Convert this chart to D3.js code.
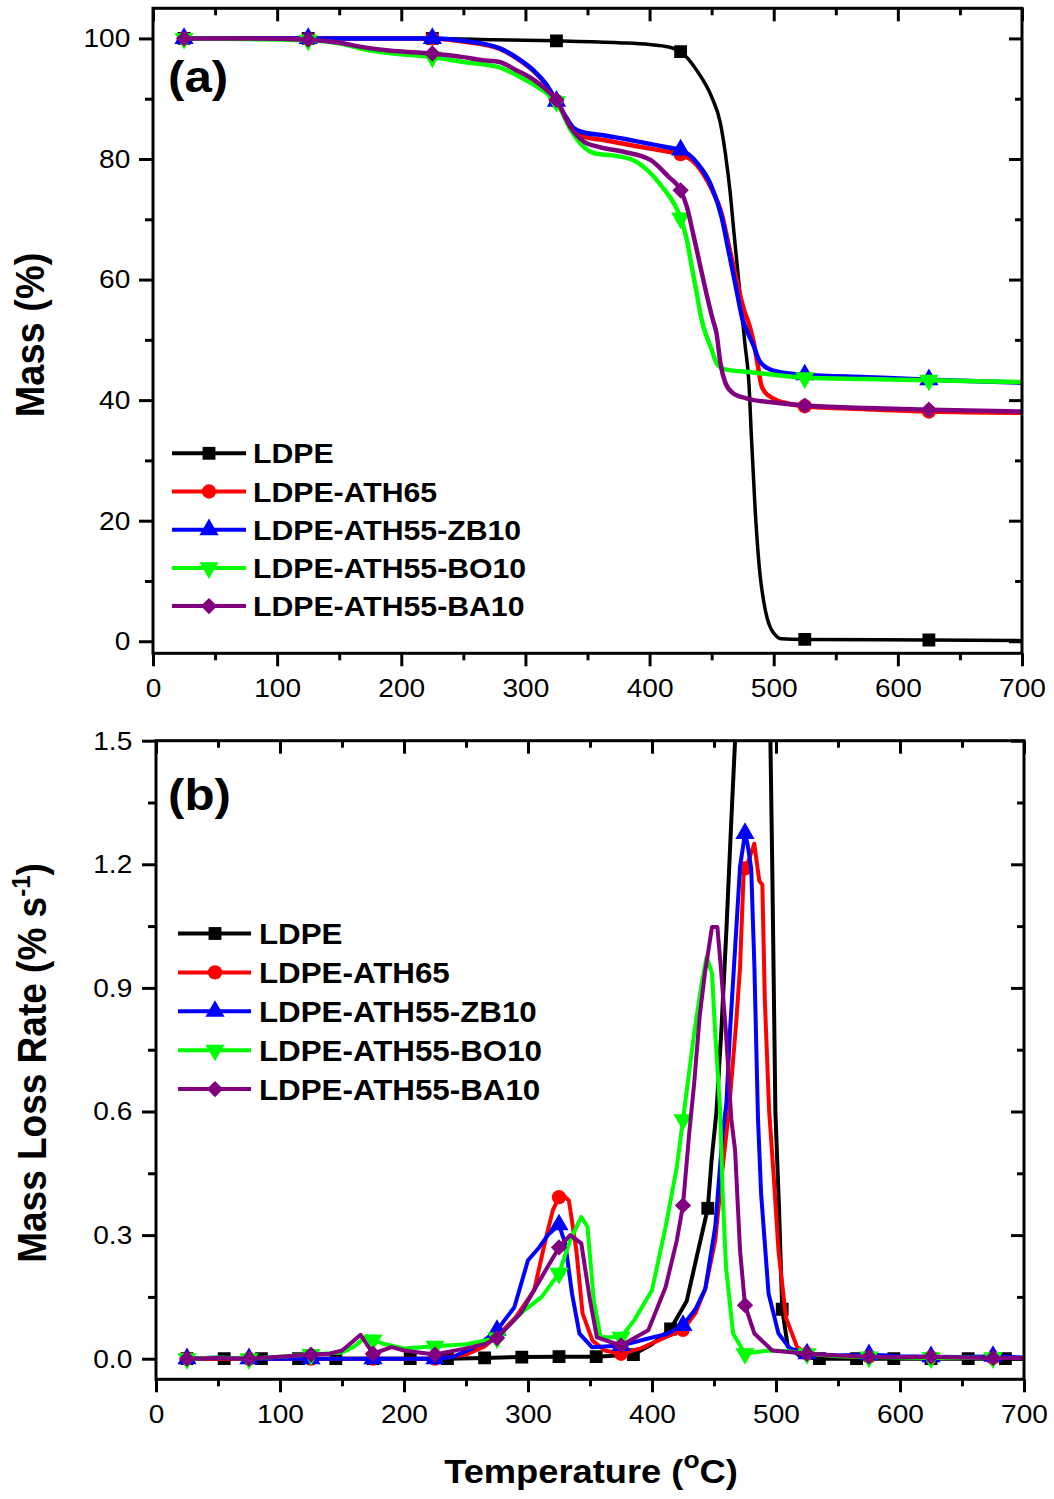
<!DOCTYPE html>
<html>
<head>
<meta charset="utf-8">
<script src="https://cdn.jsdelivr.net/npm/d3@7"></script>
<style>
  body { margin: 0; background: #fff; }
  svg text { font-family: Arial, "Liberation Sans", sans-serif; fill: #000; }
</style>
</head>
<body>
<svg width="1054" height="1499"></svg>
<script>
// series info
const seriesNames = ["LDPE", "LDPE-ATH65", "LDPE-ATH55-ZB10", "LDPE-ATH55-BO10", "LDPE-ATH55-BA10"];
const seriesColors = ["#000000", "#ff0000", "#0000ff", "#00ff00", "#800080"];

// ticks
const xMajor = [0, 100, 200, 300, 400, 500, 600, 700];
const xMinor = [50, 150, 250, 350, 450, 550, 650];
const massMajor = [0, 20, 40, 60, 80, 100];
const massMinor = [10, 30, 50, 70, 90];
const rateMajor = [0, 0.3, 0.6, 0.9, 1.2, 1.5];
const rateMinor = [0.15, 0.45, 0.75, 1.05, 1.35];

// marker temperatures
const massMarkerT = [25, 125, 225, 325, 425, 525, 625];
const rateMarkerT = [25, 75, 125, 175, 225, 275, 325, 375, 425, 475, 525, 575, 625, 675];
const rateMarkerTLDPE = [25, 55, 85, 115, 145, 175, 205, 235, 265, 295, 325, 355, 385, 415, 445, 475, 505, 535, 565, 595, 625, 655, 685];

// (a) mass, [temperature, %]
const massLDPE = [[25,100],[125,100],[225,100],[275,99.8],[325,99.6],[375,99.3],[400,99],[415,98.6],[425,97.8],[438,94.7],[450,90.3],[457,86],[461,81],[465,74.3],[468,67.7],[472,59.4],[475,53],[477,49],[480,43],[482,34],[485,22],[489,11],[492,6.5],[495,3.6],[498,2],[501,1.1],[506,0.4],[525,0.3],[625,0.2],[700,0.1]];
const massATH65 = [[25,100],[75,100],[125,100],[175,100],[225,100],[250,99.5],[279,98.3],[293,96.7],[307,94.5],[316,92.5],[325,89.6],[332,87],[339,84.8],[347,83.7],[364,83.1],[393,82],[415,81.2],[425,80.8],[438,79],[450,75],[458,71],[464,65.5],[470,60],[476,55],[481,52],[484,49.5],[487,46],[490,42.5],[493,41.3],[497,40.6],[502,40],[508,39.6],[525,39],[575,38.5],[625,38.1],[700,37.9]];
const massZB10 = [[25,100],[75,100],[125,100],[175,100],[225,100],[250,99.6],[279,98.4],[293,96.8],[307,94.6],[316,92.6],[325,89.6],[332,87.2],[339,85.1],[347,84.4],[364,83.9],[393,82.8],[415,81.9],[425,81.5],[438,79.4],[450,75.4],[458,70.4],[464,64.4],[470,58.3],[475,53.3],[479.5,51],[484,48.9],[488,46.7],[495,45.3],[506,44.6],[525,44.2],[575,43.8],[625,43.4],[700,42.9]];
const massBO10 = [[25,100],[75,99.9],[125,99.7],[150,99.2],[168,98.3],[190,97.6],[225,96.9],[250,96.1],[279,95.2],[293,93.9],[307,92.3],[318,90.8],[325,89.5],[336,85],[347,82],[356,80.9],[370,80.6],[387,79.8],[401,77.6],[412,74.9],[421,72.1],[425,70.2],[430,66.6],[434,62.1],[438,57.7],[442,53.3],[445,51.1],[447,50],[450,48.4],[454,46.1],[461,45.1],[478,44.7],[500,44.2],[525,43.7],[575,43.5],[625,43.3],[700,43]];
const massBA10 = [[25,100],[75,100],[125,99.8],[150,99.3],[168,98.6],[190,98],[225,97.5],[250,96.9],[265,96.4],[279,96.1],[293,94.7],[307,93.1],[318,91.3],[325,89.8],[336,85.4],[347,82.9],[359,82],[379,81.2],[401,79.8],[415,77.1],[425,74.8],[430,72.1],[435,67.7],[441,62.1],[447,56.6],[451,53.3],[454,51],[457,46.2],[461,42.9],[467,41.2],[478,40.3],[500,39.6],[525,39.1],[575,38.7],[625,38.4],[700,38.1]];

// (b) mass loss rate, [temperature, % s-1]
const rateLDPE = [[25,0],[55,0],[85,0],[115,0],[145,0],[175,0],[205,0],[235,0],[265,0.002],[295,0.004],[325,0.005],[355,0.005],[385,0.01],[400,0.035],[415,0.072],[428,0.14],[437,0.26],[445,0.365],[448,0.48],[452,0.6],[456,0.8],[460,1.04],[464,1.31],[467,1.5],[471,1.85],[475,2.1],[480,2.25],[486,2.15],[492,1.85],[495.5,1.5],[497,1.19],[499.5,0.6],[502.5,0.36],[505,0.12],[509.5,0.03],[520,0.005],[535,0],[565,0],[595,0],[625,0],[655,0],[685,0],[700,0]];
const rateATH65 = [[25,0],[50,0],[75,0],[100,0],[125,0],[150,0],[175,0],[200,0],[225,0],[250,0.01],[265,0.03],[275,0.055],[290,0.1],[305,0.166],[314,0.287],[320,0.36],[325,0.392],[329,0.395],[333,0.384],[339,0.263],[344,0.11],[352,0.044],[362,0.02],[375,0.012],[391,0.025],[411,0.052],[425,0.07],[435,0.11],[443,0.17],[451,0.287],[457,0.465],[462,0.6],[468,0.82],[471,0.95],[474,1.186],[475,1.19],[478,1.21],[482.5,1.25],[486.5,1.16],[489,1.15],[491,0.87],[494.5,0.6],[498,0.45],[502,0.263],[508,0.1],[517,0.028],[525,0.012],[550,0.006],[575,0.005],[600,0.004],[625,0.003],[650,0.003],[675,0.002],[700,0.002]];
const rateZB10 = [[25,0],[50,0.003],[75,0],[100,0],[125,0],[150,0],[175,0],[200,0],[225,0],[240,0.005],[255,0.025],[265,0.045],[275,0.069],[289,0.125],[300,0.239],[309,0.27],[316,0.3],[325,0.325],[330,0.28],[335.5,0.158],[341.5,0.061],[351.6,0.028],[375,0.032],[397,0.049],[412,0.06],[425,0.081],[435,0.12],[443,0.17],[451,0.32],[457,0.547],[460,0.62],[463,0.8],[467,0.995],[471,1.194],[475,1.275],[477,1.25],[480,1.19],[482.6,0.95],[485.5,0.58],[488,0.4],[494,0.158],[502,0.061],[511,0.025],[525,0.012],[550,0.008],[575,0.01],[600,0.006],[625,0.005],[650,0.004],[675,0.006],[700,0.003]];
const rateBO10 = [[25,0],[50,0.003],[75,0],[100,0.005],[125,0.01],[150,0.015],[160,0.03],[170,0.055],[175,0.045],[185,0.035],[200,0.025],[225,0.03],[250,0.035],[275,0.05],[294,0.11],[311,0.15],[325,0.207],[334,0.287],[343,0.344],[348,0.32],[353,0.142],[358.6,0.052],[375,0.052],[385.6,0.093],[400,0.166],[411,0.32],[420,0.465],[425,0.58],[434,0.79],[440,0.91],[444,0.975],[448.4,0.935],[451,0.79],[455,0.6],[457,0.4],[459.7,0.222],[465.4,0.061],[475,0.012],[494,0.02],[510,0.018],[525,0.012],[550,0.006],[575,0.004],[600,0.003],[625,0.002],[650,0.003],[675,0.002],[700,0.002]];
const rateBA10 = [[25,0],[50,0.002],[75,0],[100,0.005],[125,0.01],[140,0.012],[150,0.02],[158,0.04],[165,0.058],[175,0.012],[190,0.028],[200,0.02],[212,0.015],[225,0.01],[250,0.025],[265,0.035],[275,0.05],[294,0.11],[311,0.198],[325,0.27],[334,0.3],[343,0.28],[350,0.142],[355.6,0.052],[375,0.032],[397,0.069],[411,0.174],[420,0.287],[425,0.372],[430,0.547],[434,0.668],[438.4,0.83],[442.7,0.936],[448.4,1.048],[452.7,1.048],[455.5,0.95],[459.7,0.79],[464,0.58],[467,0.506],[471,0.263],[475,0.13],[482.6,0.061],[497,0.02],[525,0.012],[550,0.008],[575,0.005],[600,0.004],[625,0.005],[650,0.003],[675,0.002],[700,0.002]];

const svg = d3.select("svg");
const textStretch = 1.08; // glyphs in the picture are a bit wider than Arial

// markers: square, circle, triangle up, triangle down, diamond
const seriesSymbols = [d3.symbolSquare, d3.symbolCircle, d3.symbolTriangle, d3.symbolTriangle, d3.symbolDiamond2];
const symbolSizes = [165, 160, 160, 160, 170];
const symbolRotate = [0, 0, 0, 180, 0];

function markerPath(i) {
    return d3.symbol(seriesSymbols[i], symbolSizes[i])();
}

function styleAxis(a) {
    a.select(".domain").remove();
    a.attr("font-size", 26).attr("font-family", "Arial, 'Liberation Sans', sans-serif");
    a.selectAll("line").attr("stroke", "#000").attr("stroke-width", 3);
    a.selectAll("text").attr("transform", `scale(${textStretch},1)`);
}

function drawPanel(p) {
    const g = svg.append("g");
    const [left, right] = p.x.range();
    const [bottom, top] = p.y.range();

    svg.append("defs").append("clipPath").attr("id", p.clip)
        .append("rect").attr("x", left).attr("y", top)
        .attr("width", right - left).attr("height", bottom - top);

    // bottom axis (outward), top axis (inward)
    g.append("g").attr("transform", `translate(0,${bottom})`)
        .call(d3.axisBottom(p.x).tickValues(xMajor).tickSize(13).tickPadding(12).tickFormat(d3.format("d"))).call(styleAxis);
    g.append("g").attr("transform", `translate(0,${bottom})`)
        .call(d3.axisBottom(p.x).tickValues(xMinor).tickSize(7).tickFormat("")).call(styleAxis);
    g.append("g").attr("transform", `translate(0,${top})`)
        .call(d3.axisTop(p.x).tickValues(xMajor).tickSize(-13).tickFormat("")).call(styleAxis);
    g.append("g").attr("transform", `translate(0,${top})`)
        .call(d3.axisTop(p.x).tickValues(xMinor).tickSize(-7).tickFormat("")).call(styleAxis);

    // left axis (outward), right axis (inward)
    g.append("g").attr("transform", `translate(${left},0)`)
        .call(d3.axisLeft(p.y).tickValues(p.yMajor).tickSize(14).tickPadding(p.yPad).tickFormat(p.yFormat)).call(styleAxis);
    g.append("g").attr("transform", `translate(${left},0)`)
        .call(d3.axisLeft(p.y).tickValues(p.yMinor).tickSize(8).tickFormat("")).call(styleAxis);
    g.append("g").attr("transform", `translate(${right},0)`)
        .call(d3.axisRight(p.y).tickValues(p.yMajor).tickSize(-13).tickFormat("")).call(styleAxis);
    g.append("g").attr("transform", `translate(${right},0)`)
        .call(d3.axisRight(p.y).tickValues(p.yMinor).tickSize(-7).tickFormat("")).call(styleAxis);

    // lines + markers
    const line = d3.line().x(d => p.x(d[0])).y(d => p.y(d[1])).curve(p.curve);
    const plot = g.append("g").attr("clip-path", `url(#${p.clip})`);
    p.series.forEach((s, i) => {
        plot.append("path").datum(s)
            .attr("fill", "none")
            .attr("stroke", seriesColors[i])
            .attr("stroke-width", p.widths[i])
            .attr("stroke-linejoin", "round")
            .attr("d", line);
        const mk = p.markerT[i];
        plot.selectAll(null).data(s.filter(d => mk.includes(d[0]))).join("path")
            .attr("transform", d => `translate(${p.x(d[0])},${p.y(d[1])}) rotate(${symbolRotate[i]})`)
            .attr("d", markerPath(i))
            .attr("fill", seriesColors[i]);
    });

    // frame
    g.append("rect").attr("x", left).attr("y", top)
        .attr("width", right - left).attr("height", bottom - top)
        .attr("fill", "none").attr("stroke", "#000").attr("stroke-width", 3);

    // legend
    const leg = g.append("g");
    seriesNames.forEach((name, i) => {
        const yy = p.legY0 + i * p.legDy;
        leg.append("line").attr("x1", p.legX[0]).attr("x2", p.legX[2])
            .attr("y1", yy).attr("y2", yy)
            .attr("stroke", seriesColors[i]).attr("stroke-width", 4);
        leg.append("path")
            .attr("transform", `translate(${p.legX[1]},${yy}) rotate(${symbolRotate[i]})`)
            .attr("d", markerPath(i)).attr("fill", seriesColors[i]);
        leg.append("text")
            .attr("transform", `translate(${p.legX[3]},${yy}) scale(${textStretch},1)`)
            .attr("dy", "0.36em")
            .attr("font-size", p.legFont).attr("font-weight", "bold").text(name);
    });

    // panel letter
    g.append("text")
        .attr("transform", `translate(${p.letterPos[0]},${p.letterPos[1]}) scale(1.12,1)`)
        .attr("font-size", 44).attr("font-weight", "bold").text(p.letter);
}

// (a)
drawPanel({
    clip: "clipA",
    x: d3.scaleLinear().domain([0, 700]).range([153, 1022]),
    y: d3.scaleLinear().domain([-2, 105]).range([653.3, 8.3]),
    yMajor: massMajor, yMinor: massMinor, yFormat: d3.format("d"), yPad: 7,
    series: [massLDPE, massATH65, massZB10, massBO10, massBA10],
    markerT: [massMarkerT, massMarkerT, massMarkerT, massMarkerT, massMarkerT],
    widths: [3.5, 4.5, 4.5, 4.5, 4.5],
    curve: d3.curveMonotoneX,
    legY0: 453.3, legDy: 38.2, legX: [172, 209, 246, 253], legFont: 28,
    letter: "(a)", letterPos: [168, 92]
});

// (b)
drawPanel({
    clip: "clipB",
    x: d3.scaleLinear().domain([0, 700]).range([156, 1024]),
    y: d3.scaleLinear().domain([-0.05, 1.5]).range([1379.3, 740.7]),
    yMajor: rateMajor, yMinor: rateMinor, yFormat: d3.format(".1f"), yPad: 8,
    series: [rateLDPE, rateATH65, rateZB10, rateBO10, rateBA10],
    markerT: [rateMarkerTLDPE, rateMarkerT, rateMarkerT, rateMarkerT, rateMarkerT],
    widths: [4, 4, 4, 4, 4],
    curve: d3.curveLinear,
    legY0: 933.5, legDy: 38.9, legX: [178, 215, 251, 259], legFont: 29,
    letter: "(b)", letterPos: [168, 810]
});

// axis titles
svg.append("text")
    .attr("transform", `translate(44,335) scale(${textStretch},1) rotate(-90)`)
    .attr("text-anchor", "middle").attr("font-size", 38).attr("font-weight", "bold")
    .text("Mass (%)");

const rateTitle = svg.append("text")
    .attr("transform", `translate(46,1063) scale(${textStretch},1) rotate(-90)`)
    .attr("text-anchor", "middle").attr("font-size", 37).attr("font-weight", "bold");
rateTitle.append("tspan").text("Mass Loss Rate (% s");
rateTitle.append("tspan").attr("dy", -15).attr("font-size", 24).text("-1");
rateTitle.append("tspan").attr("dy", 15).text(")");

const tempTitle = svg.append("text")
    .attr("transform", `translate(591,1483) scale(1.1,1)`)
    .attr("text-anchor", "middle").attr("font-size", 33).attr("font-weight", "bold");
tempTitle.append("tspan").text("Temperature (");
tempTitle.append("tspan").attr("dy", -15).attr("font-size", 24).text("o");
tempTitle.append("tspan").attr("dy", 15).text("C)");
</script>
</body>
</html>
